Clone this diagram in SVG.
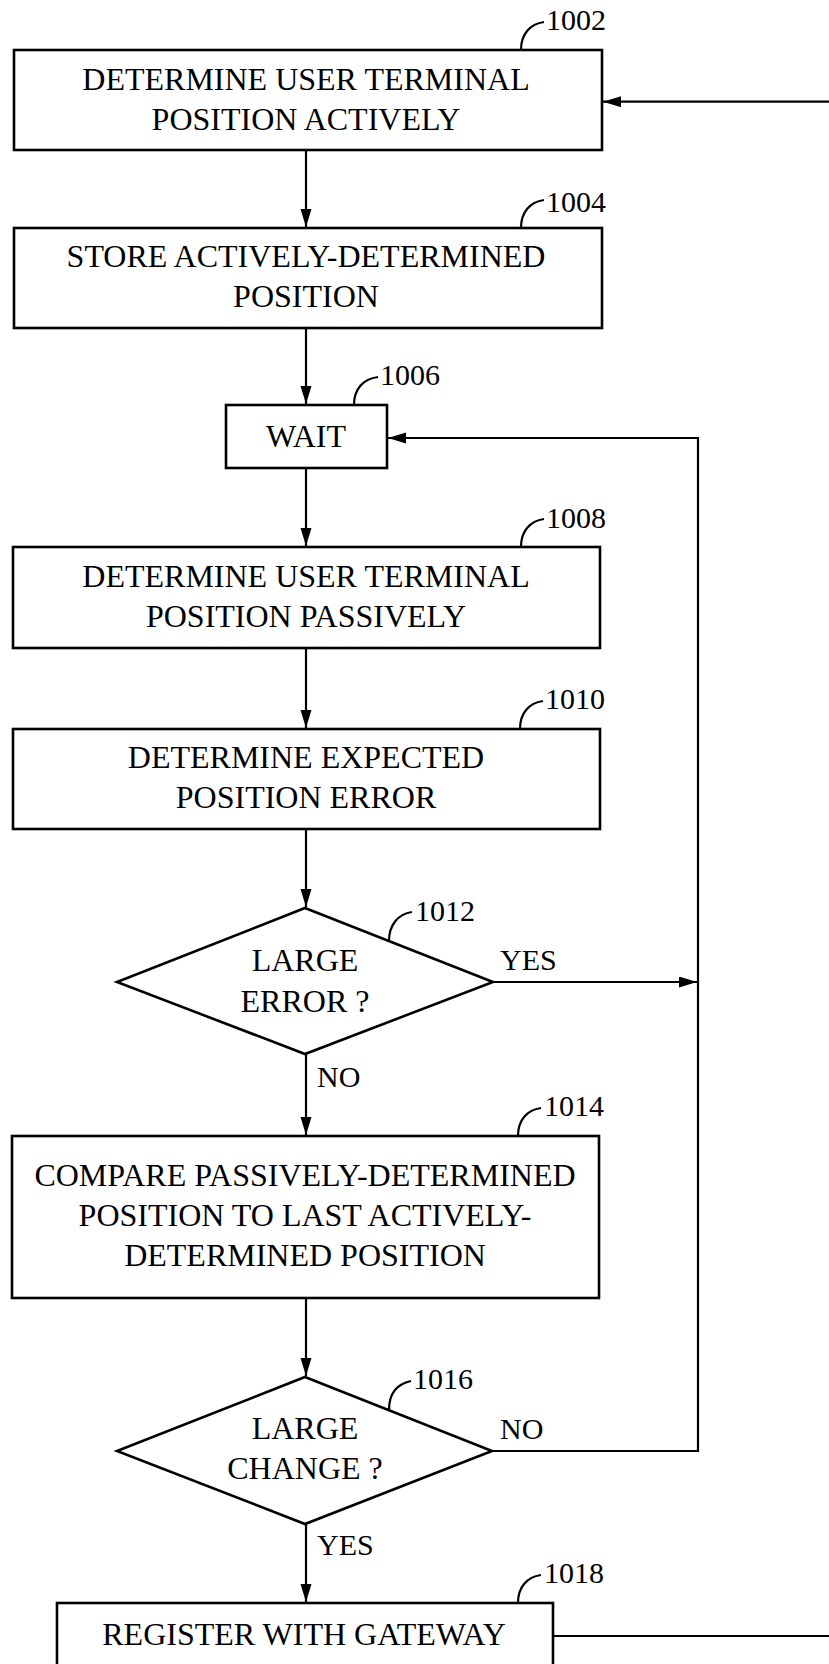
<svg xmlns="http://www.w3.org/2000/svg" width="829" height="1664" viewBox="0 0 829 1664">
<style>
.box{fill:#fff;stroke:#000;stroke-width:2.6}
.t{font-family:"Liberation Serif","Times New Roman",serif;font-size:32px;fill:#000;text-anchor:middle}
.lbl{font-family:"Liberation Serif","Times New Roman",serif;font-size:30px;fill:#000}
.lead{fill:none;stroke:#000;stroke-width:2.2}
.c{fill:none;stroke:#000;stroke-width:2.2}
</style>
<defs>
<marker id="ah" markerUnits="userSpaceOnUse" markerWidth="20" markerHeight="12" refX="18" refY="5.5" orient="auto">
<path d="M0,0 L18,5.5 L0,11 Z" fill="#000"/>
</marker>
</defs>
<rect width="829" height="1664" fill="#fff"/>

<g id="connectors">
<path class="c" d="M830,101.7 H603" marker-end="url(#ah)"/>
<path class="c" d="M306,150 V227" marker-end="url(#ah)"/>
<path class="c" d="M306,328 V404" marker-end="url(#ah)"/>
<path class="c" d="M306,468 V546" marker-end="url(#ah)"/>
<path class="c" d="M306,648 V728" marker-end="url(#ah)"/>
<path class="c" d="M306,829 V907" marker-end="url(#ah)"/>
<path class="c" d="M493,982 H697" marker-end="url(#ah)"/>
<path class="c" d="M306,1054 V1135" marker-end="url(#ah)"/>
<path class="c" d="M306,1298 V1376" marker-end="url(#ah)"/>
<path class="c" d="M492,1451 H698 V438 H388" marker-end="url(#ah)"/>
<path class="c" d="M306,1524 V1602" marker-end="url(#ah)"/>
<path class="c" d="M553,1636 H830"/>
<text class="lbl" x="500" y="970">YES</text>
<text class="lbl" x="317" y="1087">NO</text>
<text class="lbl" x="500" y="1439">NO</text>
<text class="lbl" x="317" y="1555">YES</text>
</g>

<g id="n1002">
<rect class="box" x="14" y="50" width="588" height="100"/>
<text class="t" x="306" y="90">DETERMINE USER TERMINAL</text>
<text class="t" x="306" y="130">POSITION ACTIVELY</text>
<path class="lead" d="M521,50 C521,34 530,24 544,22"/>
<text class="lbl" x="546" y="30">1002</text>
</g>

<g id="n1004">
<rect class="box" x="14" y="228" width="588" height="100"/>
<text class="t" x="306" y="267">STORE ACTIVELY-DETERMINED</text>
<text class="t" x="306" y="307">POSITION</text>
<path class="lead" d="M521,228 C521,212 530,202 544,200"/>
<text class="lbl" x="546" y="212">1004</text>
</g>

<g id="n1006">
<rect class="box" x="226" y="405" width="161" height="63"/>
<text class="t" x="306" y="447">WAIT</text>
<path class="lead" d="M354,405 C354,389 363,379 378,377"/>
<text class="lbl" x="380" y="385">1006</text>
</g>

<g id="n1008">
<rect class="box" x="13" y="547" width="587" height="101"/>
<text class="t" x="306" y="587">DETERMINE USER TERMINAL</text>
<text class="t" x="306" y="627">POSITION PASSIVELY</text>
<path class="lead" d="M521,547 C521,531 530,521 544,519"/>
<text class="lbl" x="546" y="528">1008</text>
</g>

<g id="n1010">
<rect class="box" x="13" y="729" width="587" height="100"/>
<text class="t" x="306" y="768">DETERMINE EXPECTED</text>
<text class="t" x="306" y="808">POSITION ERROR</text>
<path class="lead" d="M520,729 C520,713 529,703 543,701"/>
<text class="lbl" x="545" y="709">1010</text>
</g>

<g id="n1012">
<polygon class="box" points="305,908 493,982 305,1054 117,982"/>
<text class="t" x="305" y="971">LARGE</text>
<text class="t" x="305" y="1012">ERROR ?</text>
<path class="lead" d="M389,941 C389,925 398,914 412,912"/>
<text class="lbl" x="415" y="921">1012</text>
</g>

<g id="n1014">
<rect class="box" x="12" y="1136" width="587" height="162"/>
<text class="t" x="305" y="1186">COMPARE PASSIVELY-DETERMINED</text>
<text class="t" x="305" y="1226">POSITION TO LAST ACTIVELY-</text>
<text class="t" x="305" y="1266">DETERMINED POSITION</text>
<path class="lead" d="M518,1136 C518,1120 527,1110 541,1108"/>
<text class="lbl" x="544" y="1116">1014</text>
</g>

<g id="n1016">
<polygon class="box" points="305,1377 492,1451 305,1524 117,1451"/>
<text class="t" x="305" y="1439">LARGE</text>
<text class="t" x="305" y="1479">CHANGE ?</text>
<path class="lead" d="M389,1410 C389,1394 397,1384 411,1381"/>
<text class="lbl" x="413" y="1389">1016</text>
</g>

<g id="n1018">
<rect class="box" x="57" y="1603" width="496" height="90"/>
<text class="t" x="304" y="1645">REGISTER WITH GATEWAY</text>
<path class="lead" d="M518,1603 C518,1587 527,1577 541,1575"/>
<text class="lbl" x="544" y="1583">1018</text>
</g>
</svg>
